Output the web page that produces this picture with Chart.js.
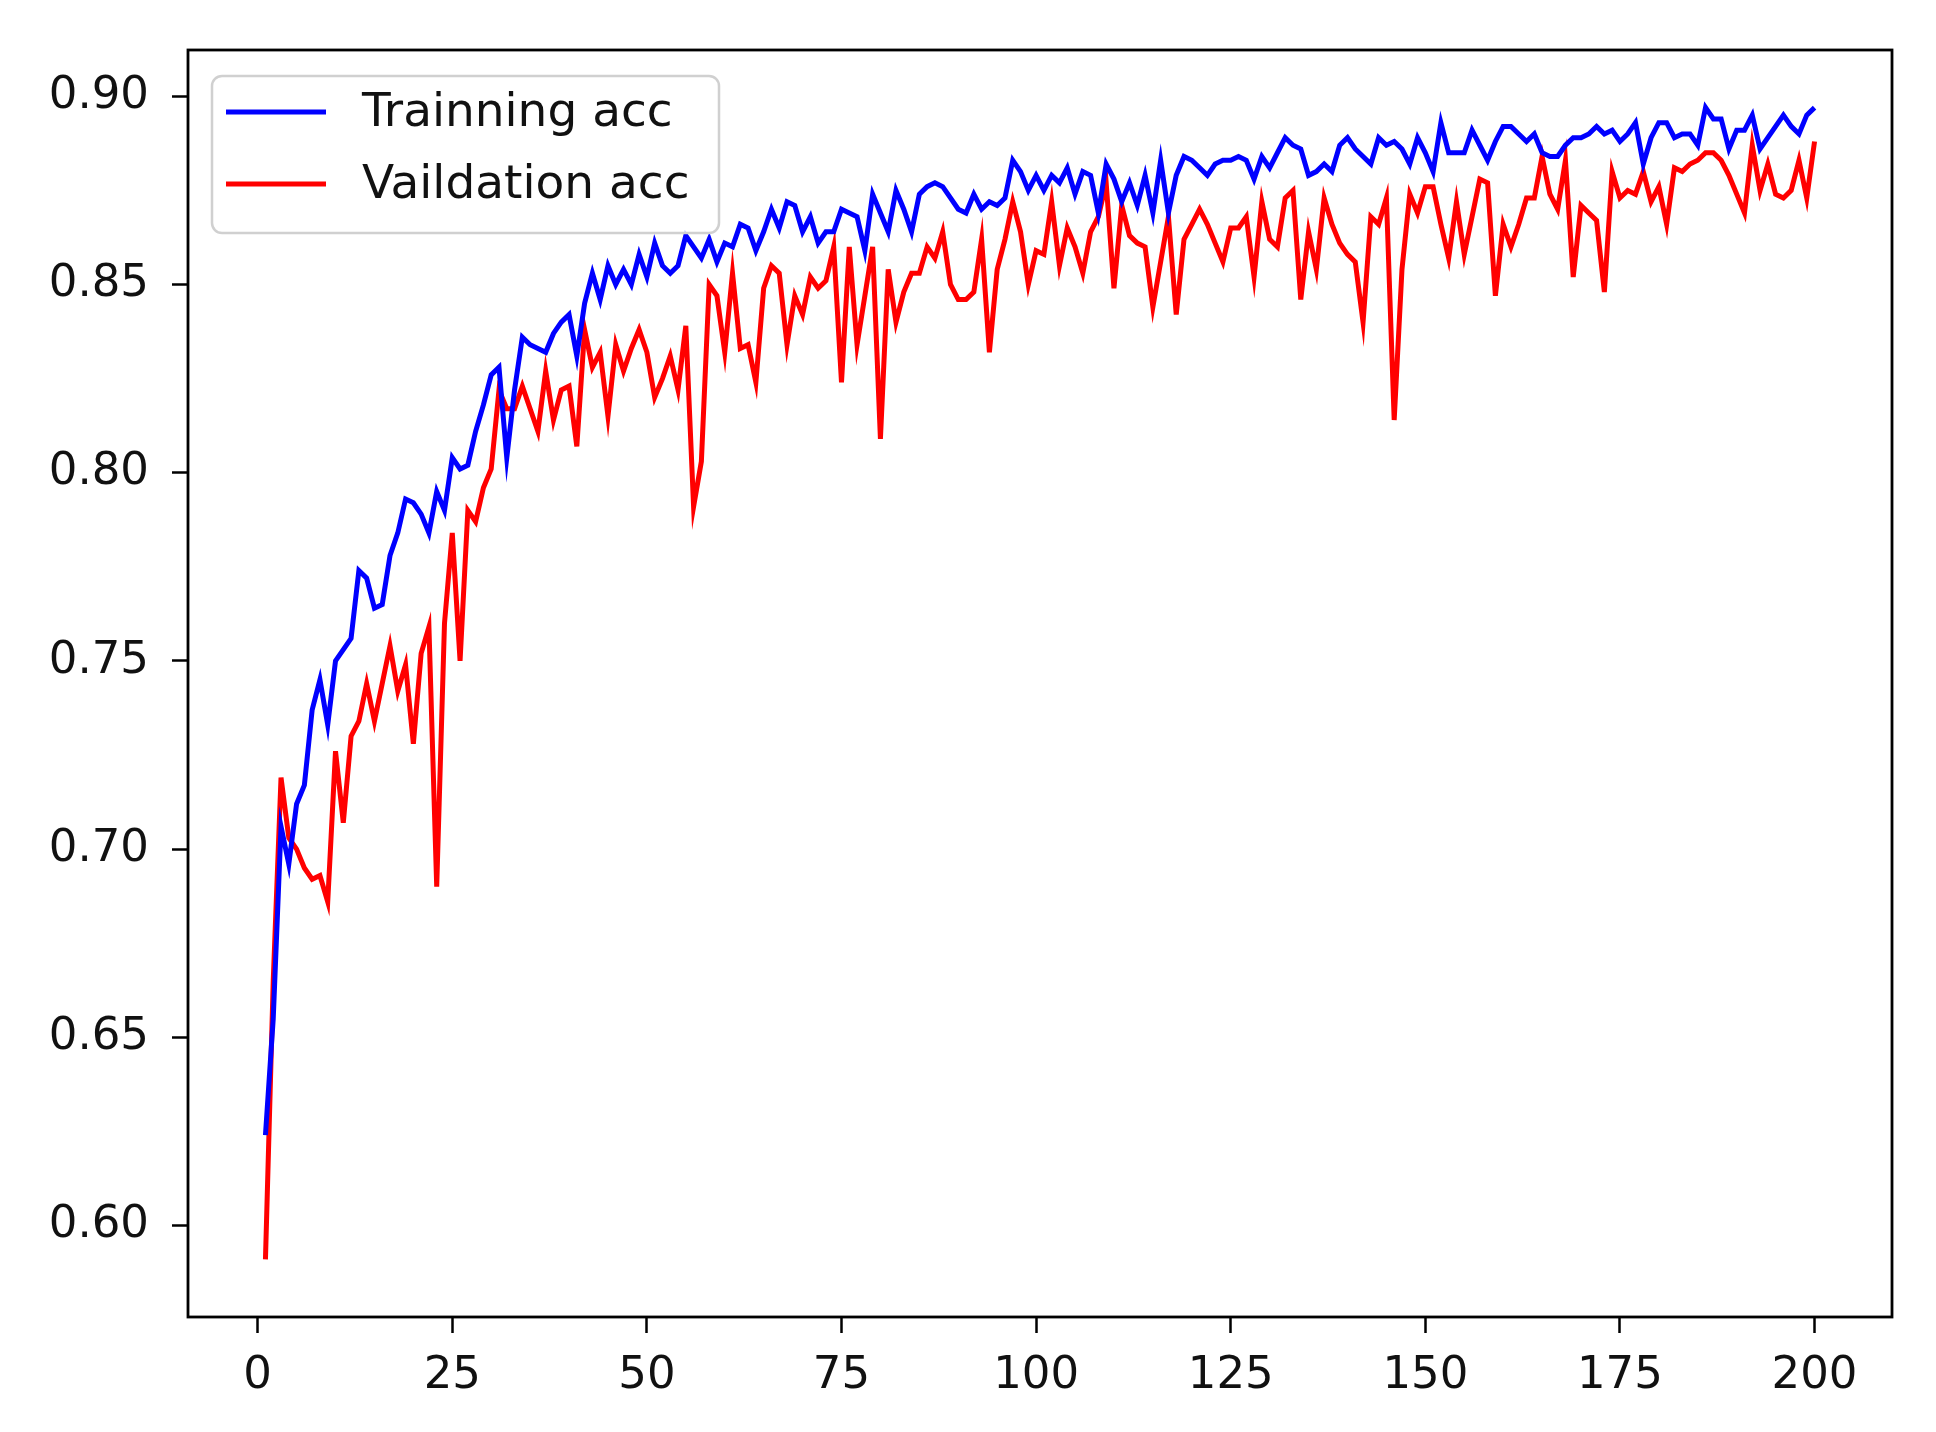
<!DOCTYPE html>
<html>
<head>
<meta charset="utf-8">
<script src="https://cdn.jsdelivr.net/npm/chart.js@4.4.0/dist/chart.umd.min.js"></script>
<style>
  html, body { margin: 0; padding: 0; background: #fff; }
  canvas { display: block; }
</style>
</head>
<body>
<canvas id="accChart" width="1936" height="1432"></canvas>
<script>
// values, epochs 1..200
const trainAcc = [
  0.624, 0.655, 0.706, 0.696, 0.712, 0.717, 0.737, 0.745, 0.733, 0.750,
  0.753, 0.756, 0.774, 0.772, 0.764, 0.765, 0.778, 0.784, 0.793, 0.792,
  0.789, 0.784, 0.795, 0.790, 0.804, 0.801, 0.802, 0.811, 0.818, 0.826,
  0.828, 0.804, 0.822, 0.836, 0.834, 0.833, 0.832, 0.837, 0.840, 0.842,
  0.831, 0.845, 0.853, 0.846, 0.855, 0.850, 0.854, 0.850, 0.858, 0.852,
  0.861, 0.855, 0.853, 0.855, 0.863, 0.860, 0.857, 0.862, 0.856, 0.861,
  0.860, 0.866, 0.865, 0.859, 0.864, 0.870, 0.865, 0.872, 0.871, 0.864,
  0.868, 0.861, 0.864, 0.864, 0.870, 0.869, 0.868, 0.859, 0.874, 0.869,
  0.864, 0.875, 0.870, 0.864, 0.874, 0.876, 0.877, 0.876, 0.873, 0.870,
  0.869, 0.874, 0.870, 0.872, 0.871, 0.873, 0.883, 0.880, 0.875, 0.879,
  0.875, 0.879, 0.877, 0.881, 0.874, 0.880, 0.879, 0.869, 0.882, 0.878,
  0.872, 0.877, 0.871, 0.879, 0.869, 0.883, 0.869, 0.879, 0.884, 0.883,
  0.881, 0.879, 0.882, 0.883, 0.883, 0.884, 0.883, 0.878, 0.884, 0.881,
  0.885, 0.889, 0.887, 0.886, 0.879, 0.880, 0.882, 0.880, 0.887, 0.889,
  0.886, 0.884, 0.882, 0.889, 0.887, 0.888, 0.886, 0.882, 0.889, 0.885,
  0.880, 0.893, 0.885, 0.885, 0.885, 0.891, 0.887, 0.883, 0.888, 0.892,
  0.892, 0.890, 0.888, 0.890, 0.885, 0.884, 0.884, 0.887, 0.889, 0.889,
  0.890, 0.892, 0.890, 0.891, 0.888, 0.890, 0.893, 0.882, 0.889, 0.893,
  0.893, 0.889, 0.890, 0.890, 0.887, 0.897, 0.894, 0.894, 0.886, 0.891,
  0.891, 0.895, 0.886, 0.889, 0.892, 0.895, 0.892, 0.890, 0.895, 0.897
];

const valAcc = [
  0.591, 0.665, 0.719, 0.703, 0.700, 0.695, 0.692, 0.693, 0.686, 0.726,
  0.707, 0.730, 0.734, 0.744, 0.734, 0.744, 0.754, 0.742, 0.749, 0.728,
  0.752, 0.759, 0.690, 0.760, 0.784, 0.750, 0.790, 0.787, 0.796, 0.801,
  0.822, 0.817, 0.817, 0.823, 0.817, 0.811, 0.827, 0.814, 0.822, 0.823,
  0.807, 0.838, 0.828, 0.832, 0.815, 0.834, 0.827, 0.833, 0.838, 0.832,
  0.820, 0.825, 0.831, 0.822, 0.839, 0.791, 0.803, 0.850, 0.847, 0.832,
  0.853, 0.833, 0.834, 0.824, 0.849, 0.855, 0.853, 0.834, 0.847, 0.842,
  0.852, 0.849, 0.851, 0.860, 0.824, 0.860, 0.834, 0.847, 0.860, 0.809,
  0.854, 0.840, 0.848, 0.853, 0.853, 0.860, 0.857, 0.864, 0.850, 0.846,
  0.846, 0.848, 0.862, 0.832, 0.854, 0.862, 0.872, 0.864, 0.850, 0.859,
  0.858, 0.872, 0.855, 0.865, 0.860, 0.853, 0.864, 0.868, 0.877, 0.849,
  0.871, 0.863, 0.861, 0.860, 0.844, 0.856, 0.868, 0.842, 0.862, 0.866,
  0.870, 0.866, 0.861, 0.856, 0.865, 0.865, 0.868, 0.852, 0.872, 0.862,
  0.860, 0.873, 0.875, 0.846, 0.864, 0.854, 0.873, 0.866, 0.861, 0.858,
  0.856, 0.840, 0.868, 0.866, 0.873, 0.814, 0.854, 0.874, 0.869, 0.876,
  0.876, 0.866, 0.857, 0.872, 0.858, 0.868, 0.878, 0.877, 0.847, 0.866,
  0.860, 0.866, 0.873, 0.873, 0.884, 0.874, 0.870, 0.883, 0.852, 0.871,
  0.869, 0.867, 0.848, 0.880, 0.873, 0.875, 0.874, 0.880, 0.872, 0.876,
  0.866, 0.881, 0.880, 0.882, 0.883, 0.885, 0.885, 0.883, 0.879, 0.874,
  0.869, 0.887, 0.875, 0.882, 0.874, 0.873, 0.875, 0.883, 0.873, 0.888
];

const epochs = Array.from({ length: trainAcc.length }, (_, i) => i + 1);
const xTicks = [0, 25, 50, 75, 100, 125, 150, 175, 200];
const yTicks = [0.60, 0.65, 0.70, 0.75, 0.80, 0.85, 0.90];
const seriesLabels = ['Trainning acc', 'Vaildation acc'];

const FONT = 'DejaVu Sans';
const TEXT_COLOR = '#111111';

// black box round the plot area
const framePlugin = {
    id: 'frame',
    afterDraw(chart) {
        const { ctx, chartArea } = chart;
        ctx.save();
        ctx.strokeStyle = '#000';
        ctx.lineWidth = 2.8;
        ctx.strokeRect(chartArea.left, chartArea.top,
            chartArea.right - chartArea.left, chartArea.bottom - chartArea.top);
        ctx.restore();
    }
};

// matplotlib style legend in the upper left corner
const boxLegend = {
    id: 'boxLegend',
    afterDraw(chart) {
        const { ctx, chartArea } = chart;
        const x = chartArea.left + 24;
        const y = chartArea.top + 26;
        const w = 507;
        const h = 157;
        const r = 10;

        ctx.save();
        ctx.beginPath();
        ctx.roundRect(x, y, w, h, r);
        ctx.fillStyle = 'rgba(255, 255, 255, 0.8)';
        ctx.fill();
        ctx.strokeStyle = '#d0d0d0';
        ctx.lineWidth = 2.5;
        ctx.stroke();

        ctx.font = '47px "' + FONT + '"';
        ctx.textBaseline = 'middle';
        ctx.fillStyle = TEXT_COLOR;
        chart.data.datasets.forEach((ds, i) => {
            const ly = y + 36 + i * 72;
            ctx.beginPath();
            ctx.moveTo(x + 14, ly);
            ctx.lineTo(x + 114, ly);
            ctx.strokeStyle = ds.borderColor;
            ctx.lineWidth = ds.borderWidth;
            ctx.stroke();
            ctx.fillText(ds.label, x + 150, ly + 2);
        });
        ctx.restore();
    }
};

const ctx = document.getElementById('accChart');

new Chart(ctx, {
    type: 'line',
    data: {
        datasets: [
            {
                label: seriesLabels[0],
                data: epochs.map((e, i) => ({ x: e, y: trainAcc[i] })),
                borderColor: '#0000ff',
                borderWidth: 5,
                pointRadius: 0,
                tension: 0,
                fill: false
            },
            {
                label: seriesLabels[1],
                data: epochs.map((e, i) => ({ x: e, y: valAcc[i] })),
                borderColor: '#ff0000',
                borderWidth: 5,
                pointRadius: 0,
                tension: 0,
                fill: false
            }
        ]
    },
    options: {
        responsive: false,
        devicePixelRatio: 1,
        animation: false,
        layout: {
            padding: { top: 49, right: 44, left: 0, bottom: 0 }
        },
        plugins: {
            legend: { display: false },
            tooltip: { enabled: false }
        },
        scales: {
            x: {
                type: 'linear',
                min: -8.95,
                max: 209.95,
                afterBuildTicks: scale => {
                    scale.ticks = xTicks.map(v => ({ value: v }));
                },
                afterFit: scale => {
                    scale.height = 115;
                },
                border: { display: false },
                grid: {
                    drawOnChartArea: false,
                    drawTicks: true,
                    tickLength: 16,
                    tickWidth: 2.5,
                    tickColor: '#000'
                },
                ticks: {
                    autoSkip: false,
                    maxRotation: 0,
                    padding: 16,
                    color: TEXT_COLOR,
                    font: { family: FONT, size: 45 },
                    callback: v => String(v)
                }
            },
            y: {
                type: 'linear',
                min: 0.5757,
                max: 0.9123,
                afterBuildTicks: scale => {
                    scale.ticks = yTicks.map(v => ({ value: v }));
                },
                afterFit: scale => {
                    scale.width = 188;
                },
                border: { display: false },
                grid: {
                    drawOnChartArea: false,
                    drawTicks: true,
                    tickLength: 16,
                    tickWidth: 2.5,
                    tickColor: '#000'
                },
                ticks: {
                    autoSkip: false,
                    padding: 23,
                    color: TEXT_COLOR,
                    font: { family: FONT, size: 45 },
                    callback: v => v.toFixed(2)
                }
            }
        }
    },
    plugins: [framePlugin, boxLegend]
});
</script>
</body>
</html>
